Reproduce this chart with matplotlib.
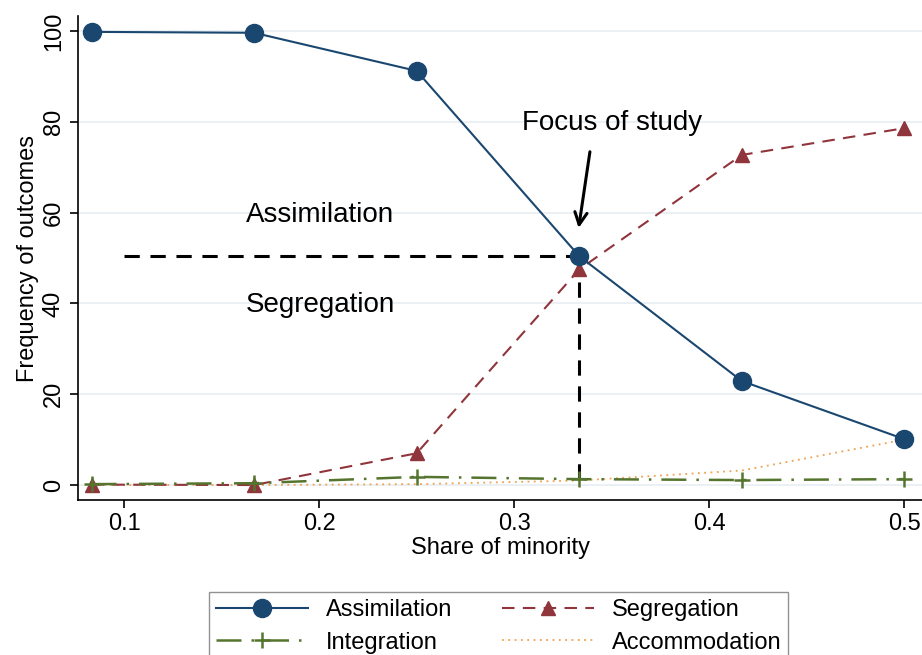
''' Outcome frequencies by minority share. '''

from matplotlib import pyplot as plt

plt.rcParams['font.family'] = ['Liberation Sans', 'DejaVu Sans']

share = [1/12, 2/12, 3/12, 4/12, 5/12, 6/12]
assimilation = [99.8, 99.6, 91.2, 50.4, 22.9, 10.1]
segregation = [0.1, 0.0, 7.0, 47.5, 72.7, 78.6]
integration = [0.2, 0.4, 1.8, 1.3, 1.1, 1.3]
accommodation = [0.0, 0.0, 0.2, 1.0, 3.2, 10.0]

xticks = [0.1, 0.2, 0.3, 0.4, 0.5]
yticks = [0, 20, 40, 60, 80, 100]

navy = '#1a476f'
maroon = '#90353b'
green = '#55752f'
orange = '#eea14f'

fig = plt.figure(figsize=(9.22, 6.55), dpi=100)
ax = fig.add_axes([0.0846, 0.2366, 0.9154, 0.739])

# Light horizontal grid, Stata style.
for y in yticks:
	ax.axhline(y, color='#e8eef2', lw=1.2, zorder=0)

hA, = ax.plot(share, assimilation, color=navy, lw=1.5, marker='o', ms=13,
	label='Assimilation', zorder=4)
hS, = ax.plot(share, segregation, color=maroon, lw=1.5, ls=(0, (6, 4)), marker='^',
	ms=10, label='Segregation', zorder=3)
hI, = ax.plot(share, integration, color=green, lw=1.8, ls=(0, (10, 4, 1, 4)),
	marker='+', ms=11, mew=1.8, label='Integration', zorder=3)
hC, = ax.plot(share, accommodation, color=orange, lw=1.3, ls=(0, (1, 2.5)),
	label='Accommodation', zorder=2)

# Reference lines at the point of focus.
ax.plot([0.1, share[3]], [assimilation[3], assimilation[3]], color='black',
	lw=2.2, ls=(0, (5, 3.5)), zorder=1)
ax.plot([share[3], share[3]], [assimilation[3], 0], color='black',
	lw=2.2, ls=(0, (5, 3.5)), zorder=1)

ax.annotate('', xy=(0.3328, 56.0), xytext=(0.339, 74.0),
	arrowprops=dict(arrowstyle='->', color='black', lw=2.2,
		mutation_scale=22))
ax.text(0.35, 79.7, 'Focus of study', fontsize=20, ha='center', va='center')
ax.text(0.2005, 59.5, 'Assimilation', fontsize=20, ha='center', va='center')
ax.text(0.2005, 39.6, 'Segregation', fontsize=20, ha='center', va='center')

ax.set_xlim(0.0764, 0.509)
ax.set_ylim(-3.3, 103.3)
ax.set_xticks(xticks)
ax.set_xticklabels([str(x) for x in xticks])
ax.set_yticks(yticks)
ax.set_yticklabels([str(y) for y in yticks], rotation=90, va='center')
ax.tick_params(labelsize=17, length=6, width=1.2, direction='out')
ax.spines['top'].set_visible(False)
ax.spines['right'].set_visible(False)
ax.spines['left'].set_linewidth(1.2)
ax.spines['bottom'].set_linewidth(1.2)
ax.set_xlabel('Share of minority', fontsize=17, labelpad=1)
ax.set_ylabel('Frequency of outcomes', fontsize=17, labelpad=3)

# Row-wise order: matplotlib fills columns first.
leg = fig.legend([hA, hI, hS, hC],
	['Assimilation', 'Integration', 'Segregation', 'Accommodation'],
	loc='upper center', bbox_to_anchor=(0.541, 0.1145), ncol=2,
	fontsize=17, frameon=True, fancybox=False, edgecolor='#777777',
	handlelength=3.9, handletextpad=0.75, columnspacing=2.1,
	borderpad=0.3, labelspacing=0.45)
leg.get_frame().set_linewidth(1.0)

fig.savefig('out.png', dpi=100)
